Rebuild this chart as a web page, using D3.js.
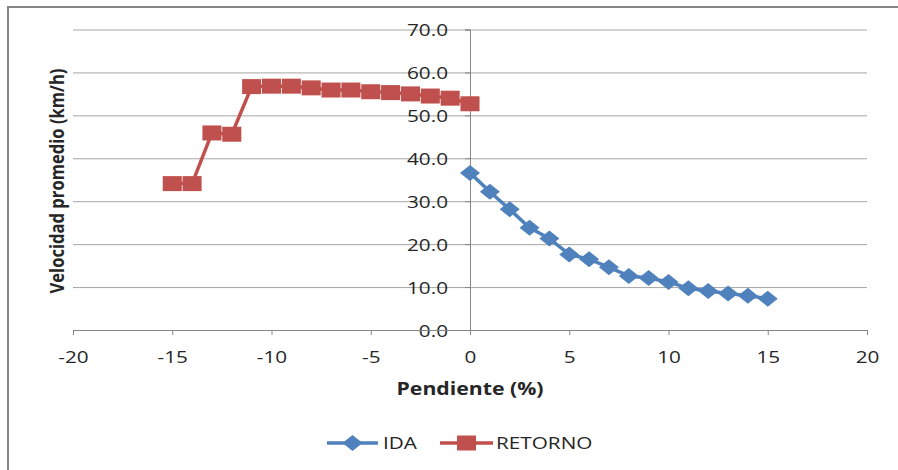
<!DOCTYPE html>
<html><head><meta charset="utf-8">
<script src="https://cdn.jsdelivr.net/npm/d3@7"></script>
<style>body{margin:0;background:#fff}svg{display:block}</style>
</head><body><svg id="c" width="898" height="470"></svg>
<script>
const idaX = [0,1,2,3,4,5,6,7,8,9,10,11,12,13,14,15];
const idaY = [36.6,32.2,28.1,23.8,21.3,17.6,16.5,14.6,12.6,12.1,11.2,9.7,9.1,8.5,8.0,7.3];
const retornoX = [-15,-14,-13,-12,-11,-10,-9,-8,-7,-6,-5,-4,-3,-2,-1,0];
const retornoY = [34.1,34.1,45.9,45.6,56.7,56.8,56.8,56.4,55.9,55.9,55.5,55.3,55.0,54.5,54.0,52.7];
const xTicks = [-20,-15,-10,-5,0,5,10,15,20];
const yTicks = [0,10,20,30,40,50,60,70];
const seriesNames = ["IDA","RETORNO"];
const xTitle = "Pendiente (%)";
const yTitle = "Velocidad promedio (km/h)";

const BLUE = "#4F81BD", RED = "#C0504D", TXT = "#262626";
const SX = 1.22;
const FONT = "'Open Sans', sans-serif";

const svg = d3.select("#c");
const x = d3.scaleLinear().domain([-20,20]).range([73,867]);
const y = d3.scaleLinear().domain([0,70]).range([330,29.5]);

// outer frame
svg.append("rect").attr("x",8).attr("y",7).attr("width",900).attr("height",480)
  .attr("fill","#fff").attr("stroke","#868686").attr("stroke-width",2);

// horizontal gridlines
const grid = svg.append("g").attr("transform",`translate(${x(-20)},0)`)
  .call(d3.axisRight(y).tickValues(yTicks.filter(d=>d>0)).tickSize(x(20)-x(-20)).tickFormat(""));
grid.select(".domain").remove();
grid.selectAll("line").attr("stroke","#A6A6A6").attr("stroke-width",1);

// y axis at x=0
const ya = svg.append("g").attr("transform",`translate(${x(0)},0)`)
  .call(d3.axisLeft(y).tickValues(yTicks).tickSize(5).tickFormat(d=>d.toFixed(1)));
ya.select(".domain").attr("stroke","#868686");
ya.selectAll(".tick line").attr("stroke","#868686");
ya.selectAll(".tick text")
  .attr("x",-22/SX).attr("dy","0.36em").attr("transform",`scale(${SX},1)`)
  .attr("font-family",FONT).attr("font-size",17).attr("fill",TXT);

// x axis at y=0
const xa = svg.append("g").attr("transform",`translate(0,${y(0)})`)
  .call(d3.axisBottom(x).tickValues(xTicks).tickSize(5).tickSizeOuter(0).tickFormat(d=>String(d)));
xa.select(".domain").attr("stroke","#868686");
xa.selectAll(".tick line").attr("stroke","#868686");
xa.selectAll(".tick text")
  .attr("y",33).attr("dy",null).attr("transform",`scale(${SX},1)`)
  .attr("font-family",FONT).attr("font-size",17).attr("fill",TXT);

// titles
svg.append("text").attr("transform",`translate(${x(0)},395) scale(1.18,1)`)
  .attr("text-anchor","middle").attr("font-family",FONT).attr("font-weight","bold")
  .attr("font-size",18).attr("fill",TXT).text(xTitle);
svg.append("text").attr("transform",`translate(64,181) scale(1.2,1) rotate(-90)`)
  .attr("text-anchor","middle").attr("font-family",FONT).attr("font-weight","bold")
  .attr("font-size",16.6).attr("fill",TXT).text(yTitle);

// series
const line = d3.line().x(d=>x(d[0])).y(d=>y(d[1]));
const idaData = idaX.map((v,i)=>[v,idaY[i]]);
const retData = retornoX.map((v,i)=>[v,retornoY[i]]);
const sq = d3.symbol(d3.symbolSquare, 225)();
const dia = d3.symbol(d3.symbolSquare, 128)();

function drawSeries(data,color,shape,tr){
  svg.append("path").datum(data).attr("d",line).attr("fill","none")
    .attr("stroke",color).attr("stroke-width",3.5).attr("stroke-linejoin","round");
  svg.append("g").selectAll("path").data(data).join("path")
    .attr("d",shape).attr("fill",color)
    .attr("transform",d=>`translate(${x(d[0])},${y(d[1])}) ${tr}`);
}
drawSeries(retData,RED,sq,"scale(1.27,1)");
drawSeries(idaData,BLUE,dia,"scale(1.25,1) rotate(45)");

// legend
const lg = svg.append("g");
const legendItems = [
  {name:seriesNames[0],color:BLUE,shape:dia,tr:"scale(1.25,1) rotate(45)",x1:327,x2:378,tx:383},
  {name:seriesNames[1],color:RED,shape:sq,tr:"scale(1.27,1)",x1:440,x2:493,tx:496}
];
const ly = 443;
legendItems.forEach(it=>{
  lg.append("line").attr("x1",it.x1).attr("x2",it.x2).attr("y1",ly).attr("y2",ly)
    .attr("stroke",it.color).attr("stroke-width",3.5);
  lg.append("path").attr("d",it.shape).attr("fill",it.color)
    .attr("transform",`translate(${(it.x1+it.x2)/2},${ly}) ${it.tr}`);
  lg.append("text").attr("transform",`translate(${it.tx},${ly+6}) scale(${SX},1)`)
    .attr("font-family",FONT).attr("font-size",17).attr("fill",TXT).text(it.name);
});
</script></body></html>
